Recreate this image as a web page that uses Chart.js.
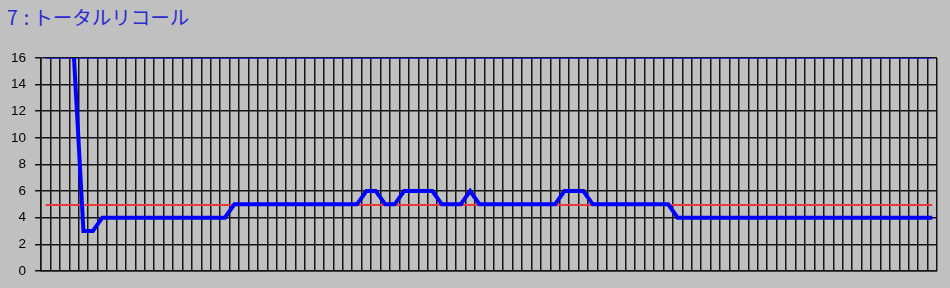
<!DOCTYPE html>
<html>
<head>
<meta charset="utf-8">
<title>7 : トータルリコール</title>
<script src="https://cdn.jsdelivr.net/npm/chart.js@4"></script>
<style>
  body { margin: 0; background: #c0c0c0; }
  #wrap { position: relative; width: 950px; height: 288px; }
  #title {
    position: absolute; left: 7px; top: 2px;
    font-family: "Noto Sans CJK JP", sans-serif;
    font-size: 19.5px; color: #2b2bd0; white-space: pre;
  }
  #title .num { margin-right: 6px; }
  #title .sep { margin-right: 4px; }
  canvas { position: absolute; left: 0; top: 0; }
</style>
</head>
<body>
<div id="wrap">
  <div id="title"><span class="num">7</span><span class="sep">:</span>トータルリコール</div>
  <canvas id="chart" width="950" height="288"></canvas>
</div>
<script>
// x categories (sample number, labels are not shown)
const samples = [
  1, 2, 3, 4, 5, 6, 7, 8, 9, 10, 11, 12, 13, 14, 15, 16, 17, 18, 19, 20,
  21, 22, 23, 24, 25, 26, 27, 28, 29, 30, 31, 32, 33, 34, 35, 36, 37, 38, 39, 40,
  41, 42, 43, 44, 45, 46, 47, 48, 49, 50, 51, 52, 53, 54, 55, 56, 57, 58, 59, 60,
  61, 62, 63, 64, 65, 66, 67, 68, 69, 70, 71, 72, 73, 74, 75, 76, 77, 78, 79, 80,
  81, 82, 83, 84, 85, 86, 87, 88, 89, 90, 91, 92, 93, 94, 95
];

// total recall values
const recall = [
  null, null, null, 16, 3, 3, 4, 4, 4, 4, 4, 4, 4, 4, 4, 4, 4, 4, 4, 4,
  5, 5, 5, 5, 5, 5, 5, 5, 5, 5, 5, 5, 5, 5, 6, 6, 5, 5, 6, 6,
  6, 6, 5, 5, 5, 6, 5, 5, 5, 5, 5, 5, 5, 5, 5, 6, 6, 6, 5, 5,
  5, 5, 5, 5, 5, 5, 5, 4, 4, 4, 4, 4, 4, 4, 4, 4, 4, 4, 4, 4,
  4, 4, 4, 4, 4, 4, 4, 4, 4, 4, 4, 4, 4, 4, 4
];

// reference levels
const averageLevel = 4.95;
const upperLevel = 16;

const yTicks = [0, 2, 4, 6, 8, 10, 12, 14, 16];

const ctx = document.getElementById("chart").getContext("2d");

new Chart(ctx, {
  type: "line",
  data: {
    labels: samples,
    datasets: [
      {
        label: "upper",
        data: samples.map(() => upperLevel),
        borderColor: "#2020ff",
        borderWidth: 1.5,
        pointRadius: 0,
        order: 2
      },
      {
        label: "average",
        data: samples.map(() => averageLevel),
        borderColor: "#e83a3a",
        borderWidth: 2,
        pointRadius: 0,
        order: 1
      },
      {
        label: "recall",
        data: recall,
        borderColor: "#0000ff",
        borderWidth: 4,
        pointRadius: 0,
        tension: 0,
        clip: { top: 0, left: 4, right: 4, bottom: 4 },
        order: 0
      }
    ]
  },
  options: {
    responsive: false,
    animation: false,
    layout: { padding: { left: 0, right: 13, top: 58, bottom: 13 } },
    plugins: {
      legend: { display: false },
      tooltip: { enabled: false }
    },
    scales: {
      x: {
        type: "category",
        offset: true,
        grid: {
          offset: true,
          color: "#151515",
          lineWidth: 1.5,
          drawTicks: false
        },
        border: { color: "#151515", width: 1.5 },
        ticks: { display: false },
        afterFit: scale => { scale.height = 0; }
      },
      y: {
        min: 0,
        max: 16,
        afterBuildTicks: scale => {
          scale.ticks = yTicks.map(v => ({ value: v }));
        },
        grid: {
          color: "#151515",
          lineWidth: 1.5,
          tickLength: 6
        },
        border: { color: "#151515", width: 1.5 },
        ticks: {
          color: "#000",
          padding: 9,
          font: { family: "Liberation Sans", size: 13.5 }
        },
        afterFit: scale => { scale.width = 41; }
      }
    }
  }
});
</script>
</body>
</html>
